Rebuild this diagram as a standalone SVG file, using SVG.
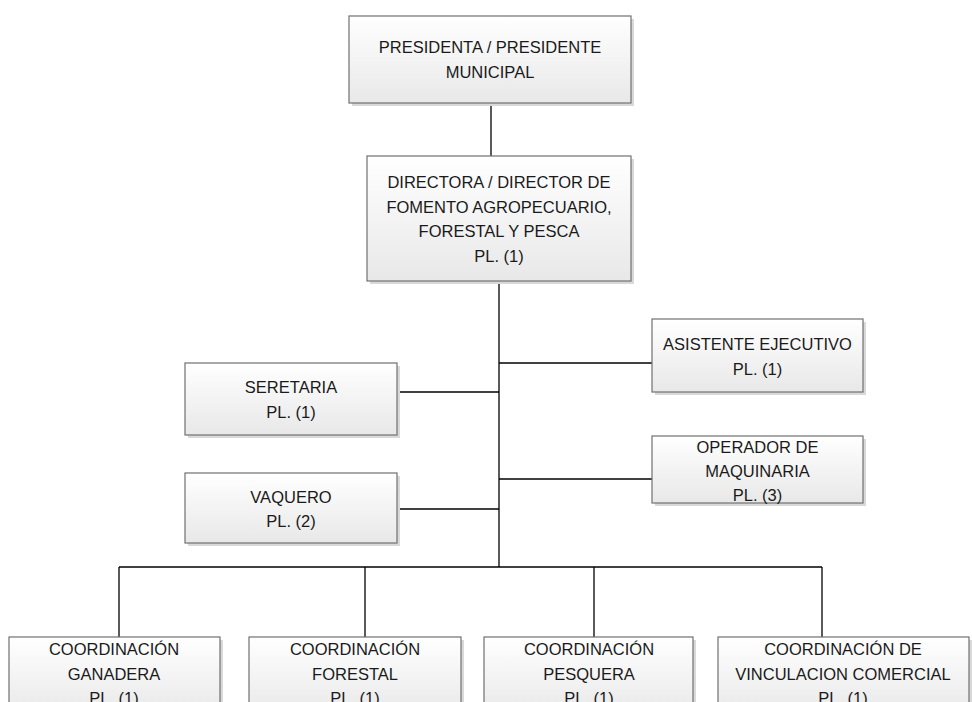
<svg xmlns="http://www.w3.org/2000/svg" width="972" height="702" viewBox="0 0 972 702">
<defs>
<linearGradient id="g" x1="0" y1="0" x2="0" y2="1">
<stop offset="0" stop-color="#ffffff"/>
<stop offset="1" stop-color="#e8e8e8"/>
</linearGradient>
</defs>
<style>
.sh{fill:#d9d9d9;}
.bx{fill:url(#g);stroke:#707070;stroke-width:1.2;}
.t{font-family:"Liberation Sans",Arial,sans-serif;font-size:16.5px;fill:#1a1a1a;text-anchor:middle;}
.c{stroke:#000;stroke-width:1.3;fill:none;}
</style>
<rect width="972" height="702" fill="#fff"/>
<g id="connectors">
<line class="c" x1="491" y1="103" x2="491" y2="156"/>
<line class="c" x1="499" y1="281" x2="499" y2="567"/>
<line class="c" x1="499" y1="363" x2="652" y2="363"/>
<line class="c" x1="397" y1="392" x2="499" y2="392"/>
<line class="c" x1="499" y1="479" x2="652" y2="479"/>
<line class="c" x1="397" y1="509" x2="499" y2="509"/>
<line class="c" x1="119" y1="567" x2="822" y2="567"/>
<line class="c" x1="119" y1="567" x2="119" y2="637"/>
<line class="c" x1="365" y1="567" x2="365" y2="637"/>
<line class="c" x1="594" y1="567" x2="594" y2="637"/>
<line class="c" x1="822" y1="567" x2="822" y2="637"/>
</g>
<g id="presidente">
<rect class="sh" x="352" y="19" width="282" height="87"/>
<rect class="bx" x="349" y="16" width="282" height="87"/>
<text class="t" x="490" y="53">PRESIDENTA / PRESIDENTE</text>
<text class="t" x="490" y="78">MUNICIPAL</text>
</g>
<g id="director">
<rect class="sh" x="370" y="159" width="264" height="125"/>
<rect class="bx" x="367" y="156" width="264" height="125"/>
<text class="t" x="499" y="188">DIRECTORA / DIRECTOR DE</text>
<text class="t" x="499" y="213">FOMENTO AGROPECUARIO,</text>
<text class="t" x="499" y="237">FORESTAL Y PESCA</text>
<text class="t" x="499" y="262">PL. (1)</text>
</g>
<g id="asistente">
<rect class="sh" x="655" y="322" width="211" height="73"/>
<rect class="bx" x="652" y="319" width="211" height="73"/>
<text class="t" x="757.5" y="350">ASISTENTE EJECUTIVO</text>
<text class="t" x="757.5" y="375">PL. (1)</text>
</g>
<g id="seretaria">
<rect class="sh" x="188" y="366" width="212" height="72"/>
<rect class="bx" x="185" y="363" width="212" height="72"/>
<text class="t" x="291" y="393">SERETARIA</text>
<text class="t" x="291" y="418">PL. (1)</text>
</g>
<g id="operador">
<rect class="sh" x="655" y="439" width="211" height="67"/>
<rect class="bx" x="652" y="436" width="211" height="67"/>
<text class="t" x="757.5" y="453">OPERADOR DE</text>
<text class="t" x="757.5" y="477">MAQUINARIA</text>
<text class="t" x="757.5" y="501">PL. (3)</text>
</g>
<g id="vaquero">
<rect class="sh" x="188" y="476" width="212" height="70"/>
<rect class="bx" x="185" y="473" width="212" height="70"/>
<text class="t" x="291" y="503">VAQUERO</text>
<text class="t" x="291" y="527">PL. (2)</text>
</g>
<g id="ganadera">
<rect class="sh" x="12" y="640" width="211" height="80"/>
<rect class="bx" x="9" y="637" width="211" height="80"/>
<text class="t" x="114" y="655">COORDINACIÓN</text>
<text class="t" x="114" y="680">GANADERA</text>
<text class="t" x="114" y="704">PL. (1)</text>
</g>
<g id="forestal">
<rect class="sh" x="252" y="640" width="212" height="80"/>
<rect class="bx" x="249" y="637" width="212" height="80"/>
<text class="t" x="355" y="655">COORDINACIÓN</text>
<text class="t" x="355" y="680">FORESTAL</text>
<text class="t" x="355" y="704">PL. (1)</text>
</g>
<g id="pesquera">
<rect class="sh" x="487" y="640" width="209" height="80"/>
<rect class="bx" x="484" y="637" width="209" height="80"/>
<text class="t" x="589" y="655">COORDINACIÓN</text>
<text class="t" x="589" y="680">PESQUERA</text>
<text class="t" x="589" y="704">PL. (1)</text>
</g>
<g id="vinculacion">
<rect class="sh" x="721" y="640" width="251" height="80"/>
<rect class="bx" x="718" y="637" width="251" height="80"/>
<text class="t" x="843" y="655">COORDINACIÓN DE</text>
<text class="t" x="843" y="680">VINCULACION COMERCIAL</text>
<text class="t" x="843" y="704">PL. (1)</text>
</g>
</svg>
